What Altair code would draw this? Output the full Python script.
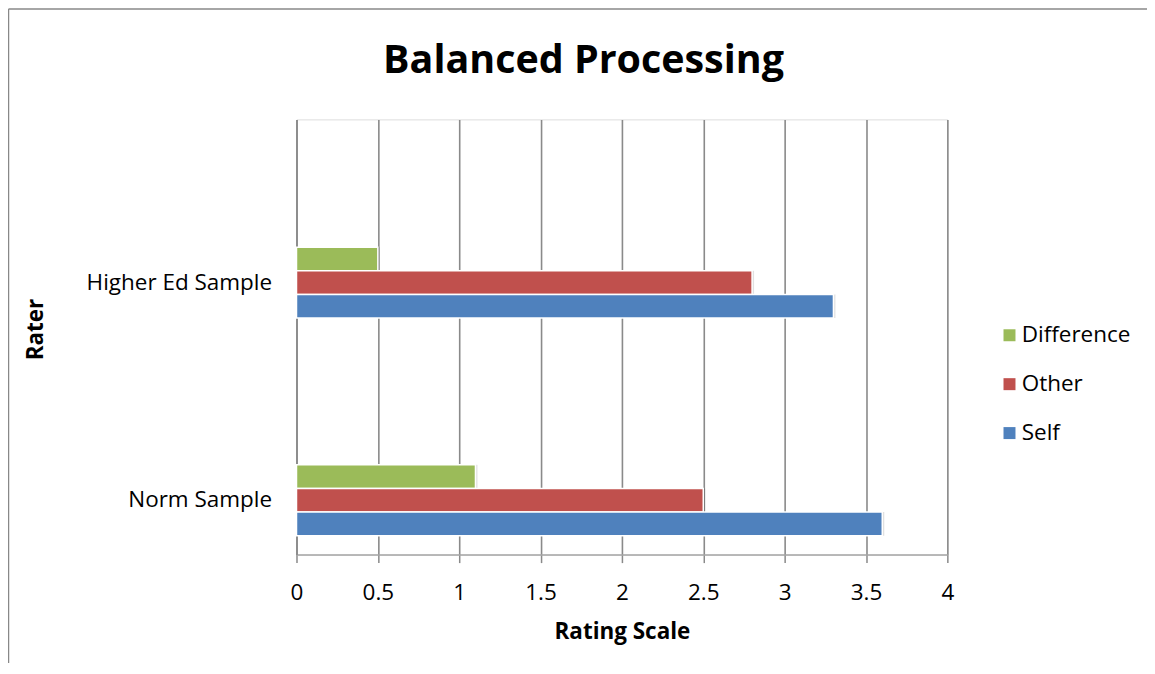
import altair as alt
import pandas as pd

raters = ["Norm Sample", "Higher Ed Sample"]
series = ["Difference", "Other", "Self"]
self_vals = [3.6, 3.3]
other_vals = [2.5, 2.8]
diff_vals = [1.1, 0.5]
colors = ["#9BBB59", "#C0504D", "#4F81BD"]
ticks = [0, 0.5, 1, 1.5, 2, 2.5, 3, 3.5, 4]
chart_title = "Balanced Processing"

rows = []
for i, r in enumerate(raters):
    rows.append({"Rater": r, "Series": "Difference", "Value": diff_vals[i]})
    rows.append({"Rater": r, "Series": "Other", "Value": other_vals[i]})
    rows.append({"Rater": r, "Series": "Self", "Value": self_vals[i]})
df = pd.DataFrame(rows)

FONT = "Open Sans"
W, H = 652, 436
GRAY = "#8a8a8a"
FS = 22.5

x_enc = alt.X("Value:Q", scale=alt.Scale(domain=[0, 4], nice=False),
              axis=alt.Axis(values=ticks, format="~g", title="Rating Scale",
                            grid=True, gridColor=GRAY, gridWidth=1.6,
                            domainColor="#a6a6a6", domainWidth=1.5,
                            tickColor=GRAY, tickWidth=1.5, tickSize=8,
                            labelFontSize=FS, labelFont=FONT, labelColor="black",
                            labelBaseline="middle", labelPadding=30, labelFlush=False,
                            titleFontSize=FS, titleFont=FONT, titleFontWeight="bold",
                            titleColor="black", titleBaseline="middle",
                            titleX=W / 2, titleY=77))
y_enc = alt.Y("Rater:N", sort=["Higher Ed Sample", "Norm Sample"],
              scale=alt.Scale(paddingInner=0.674, paddingOuter=0.337, align=0.871),
              axis=alt.Axis(title="Rater", ticks=False, tickSize=0, grid=False,
                            domainColor=GRAY, domainWidth=1.6,
                            labelFontSize=FS, labelFont=FONT, labelColor="black",
                            labelPadding=25, labelLimit=400,
                            titleFontSize=FS, titleFont=FONT, titleFontWeight="bold",
                            titleColor="black", titleBaseline="middle",
                            titleAngle=-90, titleX=-261, titleY=210))
yoff_enc = alt.YOffset("Series:N", sort=series)

shadow = alt.Chart(df).mark_bar(color="#000000", opacity=0.12, xOffset=2).encode(
    x=x_enc, y=y_enc, yOffset=yoff_enc)

bars = alt.Chart(df).mark_bar(stroke="white", strokeWidth=1.5).encode(
    x=x_enc, y=y_enc, yOffset=yoff_enc,
    color=alt.Color("Series:N",
                    scale=alt.Scale(domain=series, range=colors),
                    legend=alt.Legend(title=None, orient="none", legendX=703, legendY=205,
                                      symbolType="square", symbolSize=144,
                                      symbolStrokeWidth=0,
                                      labelFontSize=FS, labelFont=FONT, labelColor="black",
                                      labelOffset=1, rowPadding=26, padding=0)),
)

dummy = pd.DataFrame({"t": [chart_title]})
title_mark = alt.Chart(dummy).mark_text(fontSize=39.5, font=FONT, fontWeight="bold",
                                        color="black", baseline="alphabetic",
                                        align="center").encode(
    text="t:N", x=alt.value(287.5), y=alt.value(-46))
border_left = alt.Chart(dummy).mark_rule(color="#888888", strokeWidth=1.5).encode(
    x=alt.value(-288.5), y=alt.value(-110.5), y2=alt.value(H + 200))
border_top = alt.Chart(dummy).mark_rule(color="#888888", strokeWidth=1.5).encode(
    x=alt.value(-288.5), x2=alt.value(W + 400), y=alt.value(-110.5))

chart = alt.layer(shadow, bars, title_mark, border_left, border_top).properties(
    width=W, height=H,
    autosize=alt.AutoSizeParams(type="none"),
    padding={"left": 289, "top": 111, "right": 200, "bottom": 108},
).configure_view(stroke=None).configure(background="white")

chart.save("out.html", embed_options={"renderer": "svg", "actions": False})
